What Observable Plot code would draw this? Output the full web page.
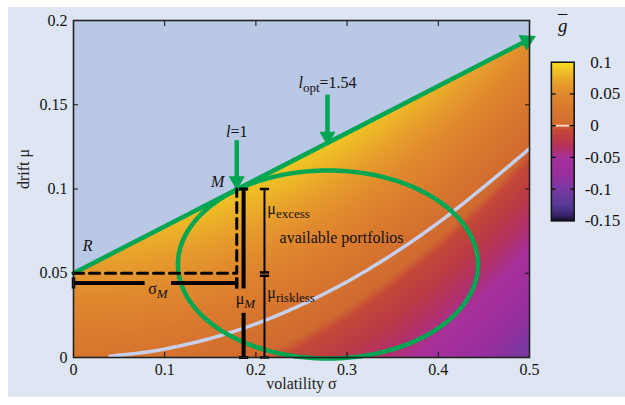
<!DOCTYPE html>
<html>
<head>
<meta charset="utf-8">
<script src="https://cdn.jsdelivr.net/npm/d3@7"></script>
<script src="https://cdn.jsdelivr.net/npm/@observablehq/plot@0.6"></script>
<style>
  html, body { margin: 0; padding: 0; background: #ffffff; }
  #wrap { position: relative; width: 625px; height: 405px; overflow: hidden; font-family: "Liberation Serif", serif; }
  #panel { position: absolute; left: 8px; top: 7px; width: 617px; height: 390px; background: #dfe6f3; }
  #main { position: absolute; left: 0; top: 0; }
  #cbar { position: absolute; left: 549px; top: 57px; }
  #gtitle { position: absolute; left: 558px; top: 15px; font-size: 19px; font-style: italic; text-decoration: overline; color: #111; }
  #wrap svg { overflow: visible; font-family: "Liberation Serif", serif !important; }
  #wrap svg text { font-family: "Liberation Serif", serif !important; }
</style>
</head>
<body>
<div id="wrap">
  <div id="panel"></div>
  <div id="main"></div>
  <div id="cbar"></div>
  <div id="gtitle">g</div>
</div>
<script>
// ---------- data ----------
const sigmaTicks = [0, 0.1, 0.2, 0.3, 0.4, 0.5];
const muTicks = [0, 0.05, 0.1, 0.15, 0.2];
const gTicksPos = [0.1, 0.05, 0];
const gTicksNeg = [-0.05, -0.1, -0.15];
const gInnerTicks = [0.05, 0, -0.05, -0.1];

// heat map grid (g-bar)
const sigmaGrid = [0, 0.05, 0.1, 0.15, 0.2, 0.25, 0.3, 0.35, 0.4, 0.45, 0.5];
const muGrid = [0, 0.025, 0.05, 0.075, 0.1, 0.125, 0.15, 0.175, 0.2];
const gGrid = [
  [0.020, 0.019, 0.015, 0.009, 0.000, -0.011, -0.025, -0.041, -0.060, -0.081, -0.105],
  [0.041, 0.040, 0.036, 0.030, 0.021, 0.010, -0.004, -0.020, -0.039, -0.060, -0.084],
  [0.062, 0.061, 0.057, 0.051, 0.042, 0.031, 0.017, 0.001, -0.018, -0.039, -0.063],
  [0.084, 0.082, 0.079, 0.072, 0.064, 0.052, 0.039, 0.022, 0.004, -0.018, -0.042],
  [0.105, 0.104, 0.100, 0.094, 0.085, 0.074, 0.060, 0.044, 0.025, 0.004, -0.020],
  [0.126, 0.125, 0.121, 0.115, 0.106, 0.095, 0.081, 0.065, 0.046, 0.025, 0.001],
  [0.148, 0.146, 0.143, 0.136, 0.128, 0.116, 0.103, 0.086, 0.068, 0.046, 0.023],
  [0.169, 0.168, 0.164, 0.158, 0.149, 0.138, 0.124, 0.108, 0.089, 0.068, 0.044],
  [0.190, 0.189, 0.185, 0.179, 0.170, 0.159, 0.145, 0.129, 0.110, 0.089, 0.065]
];

// colour map stops
const gStops = [-0.15, -0.142, -0.125, -0.1, -0.078, -0.05, -0.038, -0.022, -0.006, 0.0, 0.03, 0.05, 0.068, 0.088, 0.1];
const gColors = ["#120818", "#35256a", "#573a96", "#7838a0", "#982e9e", "#a8309a", "#b0306c", "#bc3a46", "#c44838", "#d06a30", "#da7a2e", "#e08a2e", "#e8a02c", "#f0c424", "#f7e01e"];

// efficient frontier (capital market line)
const frontier = [{sigma: 0, mu: 0.05}, {sigma: 0.5, mu: 0.1889}];
const frontierTip = [{sigma: 0.506, mu: 0.1905}];

// zero contour of g-bar
const zeroSigma = [0.04, 0.08, 0.1, 0.15, 0.2, 0.25, 0.3, 0.35, 0.4, 0.45, 0.5];
const zeroMu = [0.0008, 0.0032, 0.005, 0.0113, 0.02, 0.0313, 0.045, 0.0613, 0.08, 0.1013, 0.124];

// ellipse of available portfolios
const ellipseCenter = {sigma: 0.279, mu: 0.0552};
const ellipseRadius = {sigma: 0.1645, mu: 0.0558};

// key points
const riskless = 0.05;
const market = {sigma: 0.179, mu: 0.1};
const lOne = {sigma: 0.179, top: 0.129, tip: 0.1};
const lOpt = {sigma: 0.2785, top: 0.156, tip: 0.1265};

// bracket annotations
const sigmaMBar = {mu: 0.0442, from: 0, to: 0.179, gapFrom: 0.078, gapTo: 0.107};
const muMBar = {sigma: 0.1865, from: 0, to: 0.1, gapFrom: 0.0265, gapTo: 0.041};
const muExcessBar = {sigma: 0.2094, from: 0.0505, to: 0.1};
const muRisklessBar = {sigma: 0.2094, from: 0, to: 0.0485};

// labels (centred)
const midLabels = [
  {sigma: 0.0154, mu: 0.0665, base: "R", baseItalic: true},
  {sigma: 0.158, mu: 0.104, base: "M", baseItalic: true},
  {sigma: 0.179, mu: 0.134, base: "l", baseItalic: true, rest: "=1"},
  {sigma: 0.2785, mu: 0.163, base: "l", baseItalic: true, sub: "opt", rest: "=1.54"},
  {sigma: 0.0925, mu: 0.0405, base: "σ", sub: "M", subItalic: true},
  {sigma: 0.1885, mu: 0.0345, base: "μ", sub: "M", subItalic: true}
];
// labels (left aligned)
const startLabels = [
  {sigma: 0.2125, mu: 0.088, base: "μ", sub: "excess"},
  {sigma: 0.2125, mu: 0.0385, base: "μ", sub: "riskless"},
  {sigma: 0.226, mu: 0.0712, base: "available portfolios"}
];

// ---------- derived tables ----------
const gridPoints = muGrid.flatMap((mu, i) => sigmaGrid.map((sigma, j) => ({sigma, mu, g: gGrid[i][j]})));
const zeroContour = zeroSigma.map((s, i) => ({sigma: s, mu: zeroMu[i]}));
const ellipse = d3.range(0, 360, 2).map(a => {
  const t = a * Math.PI / 180;
  return {sigma: ellipseCenter.sigma + ellipseRadius.sigma * Math.cos(t), mu: ellipseCenter.mu + ellipseRadius.mu * Math.sin(t)};
});
const dashed = [{sigma: 0, mu: riskless}, {sigma: market.sigma, mu: riskless}, {sigma: market.sigma, mu: market.mu}];
const sigmaSegs = [
  {x1: sigmaMBar.from, x2: sigmaMBar.gapFrom, y: sigmaMBar.mu},
  {x1: sigmaMBar.gapTo, x2: sigmaMBar.to, y: sigmaMBar.mu}
];
const sigmaCaps = [{x: sigmaMBar.from, y: sigmaMBar.mu}, {x: sigmaMBar.to, y: sigmaMBar.mu}];
const muMSegs = [
  {x: muMBar.sigma, y1: muMBar.from, y2: muMBar.gapFrom},
  {x: muMBar.sigma, y1: muMBar.gapTo, y2: muMBar.to}
];
const muMCaps = [{x: muMBar.sigma, y: muMBar.from}, {x: muMBar.sigma, y: muMBar.to}];
const thinSegs = [
  {x: muExcessBar.sigma, y1: muExcessBar.from, y2: muExcessBar.to},
  {x: muRisklessBar.sigma, y1: muRisklessBar.from, y2: muRisklessBar.to}
];
const thinCaps = [
  {x: muExcessBar.sigma, y: muExcessBar.from}, {x: muExcessBar.sigma, y: muExcessBar.to},
  {x: muRisklessBar.sigma, y: muRisklessBar.from}, {x: muRisklessBar.sigma, y: muRisklessBar.to}
];
const downArrows = [lOne, lOpt];

const hCap = {draw(ctx, size) { const w = Math.sqrt(size); ctx.moveTo(-w, 0); ctx.lineTo(w, 0); }};
const vCap = {draw(ctx, size) { const w = Math.sqrt(size); ctx.moveTo(0, -w); ctx.lineTo(0, w); }};

const colorScale = {type: "linear", domain: gStops, range: gColors, clamp: true};
const green = "#00a651";
const font = {fontFamily: "Liberation Serif, serif", fontSize: "16px", background: "transparent", color: "#111"};

// ---------- main chart ----------
const main = Plot.plot({
  width: 625, height: 405,
  marginLeft: 73, marginRight: 96, marginTop: 20, marginBottom: 48,
  x: {domain: [0, 0.5], label: null},
  y: {domain: [0, 0.2], label: null},
  color: colorScale,
  style: font,
  marks: [
    Plot.raster(gridPoints, {x: "sigma", y: "mu", fill: "g", interpolate: "barycentric", x1: 0, x2: 0.5, y1: 0, y2: 0.2}),
    Plot.areaY(frontier, {x: "sigma", y1: "mu", y2: 0.2, fill: "#b9c8e5"}),
    Plot.line(zeroContour, {x: "sigma", y: "mu", stroke: "#c6d0ec", strokeWidth: 3.5, curve: "catmull-rom", strokeDasharray: "3,1"}),
    Plot.line(ellipse, {x: "sigma", y: "mu", stroke: green, strokeWidth: 4.5, curve: "linear-closed"}),
    Plot.line(frontier, {x: "sigma", y: "mu", stroke: green, strokeWidth: 4.5}),
    Plot.dot(frontierTip, {x: "sigma", y: "mu", symbol: "triangle", r: 6.5, fill: green, rotate: 63, dx: -8, dy: 4}),
    Plot.link(downArrows, {x1: "sigma", x2: "sigma", y1: "top", y2: "tip", stroke: green, strokeWidth: 4.5}),
    Plot.dot(downArrows, {x: "sigma", y: "tip", symbol: "triangle", r: 6, fill: green, rotate: 180, dy: -8}),
    // black annotations
    Plot.line(dashed, {x: "sigma", y: "mu", stroke: "#000", strokeWidth: 3, strokeDasharray: "10,6"}),
    Plot.link(sigmaSegs, {x1: "x1", x2: "x2", y1: "y", y2: "y", stroke: "#000", strokeWidth: 4}),
    Plot.dot(sigmaCaps, {x: "x", y: "y", symbol: vCap, r: 3.2, stroke: "#000", strokeWidth: 3.5}),
    Plot.link(muMSegs, {x1: "x", x2: "x", y1: "y1", y2: "y2", stroke: "#000", strokeWidth: 4}),
    Plot.dot(muMCaps, {x: "x", y: "y", symbol: hCap, r: 2.6, stroke: "#000", strokeWidth: 3}),
    Plot.link(thinSegs, {x1: "x", x2: "x", y1: "y1", y2: "y2", stroke: "#000", strokeWidth: 2}),
    Plot.dot(thinCaps, {x: "x", y: "y", symbol: hCap, r: 2.6, stroke: "#000", strokeWidth: 2.5}),
    // labels
    Plot.text(midLabels, {x: "sigma", y: "mu", text: d => d.base, textAnchor: "middle", fontSize: 16, fill: "#111", className: "rich-mid"}),
    Plot.text(startLabels, {x: "sigma", y: "mu", text: d => d.base, textAnchor: "start", fontSize: 16, fill: "#111", className: "rich-start"}),
    // axes
    Plot.axisX(sigmaTicks, {anchor: "bottom", tickSize: 0, tickPadding: 6, fontSize: 16, label: null, tickFormat: d => String(d)}),
    Plot.axisX(sigmaTicks, {anchor: "bottom", tickSize: -5, tickFormat: () => "", label: null}),
    Plot.axisX(sigmaTicks, {anchor: "top", tickSize: -5, tickFormat: () => "", label: null}),
    Plot.axisY(muTicks, {anchor: "left", tickSize: 0, tickPadding: 6, fontSize: 16, label: null, tickFormat: d => String(d)}),
    Plot.axisY(muTicks, {anchor: "left", tickSize: -5, tickFormat: () => "", label: null}),
    Plot.axisY(muTicks, {anchor: "right", tickSize: -5, tickFormat: () => "", label: null}),
    Plot.frame({stroke: "#222", strokeWidth: 1.6}),
    Plot.text(["volatility σ"], {frameAnchor: "bottom", dy: 31, fontSize: 16, fill: "#222"}),
    Plot.text(["drift μ"], {frameAnchor: "left", dx: -50, rotate: -90, fontSize: 16, fill: "#222"})
  ]
});
document.getElementById("main").appendChild(main);

// rich text (italics and subscripts)
const ns = "http://www.w3.org/2000/svg";
function enrich(selector, list) {
  main.querySelectorAll(selector + " text").forEach((el, i) => {
    const d = list[i];
    el.textContent = "";
    const b = document.createElementNS(ns, "tspan");
    b.textContent = d.base;
    if (d.baseItalic) b.setAttribute("font-style", "italic");
    el.appendChild(b);
    let shifted = false;
    if (d.sub) {
      const s = document.createElementNS(ns, "tspan");
      s.textContent = d.sub;
      s.setAttribute("font-size", "13px");
      s.setAttribute("dy", "4");
      if (d.subItalic) s.setAttribute("font-style", "italic");
      el.appendChild(s);
      shifted = true;
    }
    if (d.rest) {
      const r = document.createElementNS(ns, "tspan");
      r.textContent = d.rest;
      if (shifted) r.setAttribute("dy", "-4");
      el.appendChild(r);
    }
  });
}
enrich("g.rich-mid", midLabels);
enrich("g.rich-start", startLabels);

// ---------- colour bar ----------
const cbar = Plot.plot({
  width: 80, height: 180,
  marginLeft: 2, marginRight: 54, marginTop: 5, marginBottom: 8,
  x: {domain: [0, 1], axis: null},
  y: {domain: [-0.15, 0.1], axis: null},
  color: colorScale,
  style: font,
  marks: [
    Plot.raster({x1: 0, x2: 1, y1: -0.15, y2: 0.1, fill: (x, y) => y}),
    Plot.ruleY([0], {stroke: "#f3d6cc", strokeWidth: 2, insetLeft: 5, insetRight: 5}),
    Plot.axisY(gInnerTicks, {anchor: "left", tickSize: -5, tickFormat: () => "", label: null, strokeWidth: 1.4}),
    Plot.axisY(gInnerTicks, {anchor: "right", tickSize: -5, tickFormat: () => "", label: null, strokeWidth: 1.4}),
    Plot.axisY(gTicksPos, {anchor: "right", tickSize: 0, tickPadding: 11, dx: 6, fontSize: 18, label: null, tickFormat: d => String(d), textAnchor: "start"}),
    Plot.axisY(gTicksNeg, {anchor: "right", tickSize: 0, tickPadding: 11, fontSize: 18, label: null, tickFormat: d => String(d), textAnchor: "start"}),
    Plot.frame({stroke: "#111", strokeWidth: 1.6})
  ]
});
document.getElementById("cbar").appendChild(cbar);
</script>
</body>
</html>
